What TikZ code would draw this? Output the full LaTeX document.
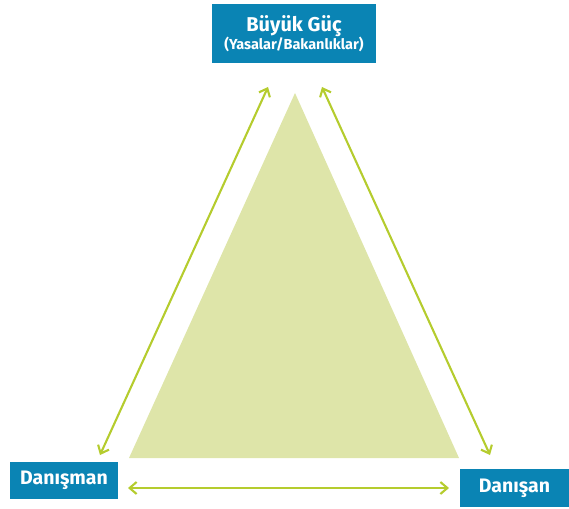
\documentclass[tikz,border=0pt]{standalone}
\usepackage{fontspec}
\setmainfont{Fira Sans}
\usetikzlibrary{arrows.meta}
\definecolor{boxblue}{HTML}{0A84B4}
\definecolor{tri}{HTML}{DEE5A9}
\definecolor{arr}{HTML}{B5CC2E}
\tikzset{
  lbl/.style={fill=boxblue,text=white,font=\bfseries,inner sep=0pt,align=center},
  link/.style={draw=arr,line width=2.1pt,{Straight Barb[length=7pt,width=12pt]}-{Straight Barb[length=7pt,width=12pt]}}
}
\begin{document}
\begin{tikzpicture}[x=1pt,y=-1pt]
\useasboundingbox (0,0) rectangle (569,508);
\fill[tri] (295,93) -- (459,458) -- (129,458) -- cycle;
\node[lbl,minimum width=164pt,minimum height=59pt] (top) at (294,33.5) {\fontsize{20}{22}\selectfont Büyük Güç\\[-1pt]\fontsize{14.5}{16}\selectfont (Yasalar/Bakanlıklar)};
\node[lbl,minimum width=108pt,minimum height=37pt,font=\bfseries\fontsize{19.5}{21}\selectfont] (left) at (64,480.5) {Danışman};
\node[lbl,minimum width=109pt,minimum height=38pt,font=\bfseries\fontsize{19.5}{21}\selectfont] (right) at (514.5,488) {Danışan};
\coordinate (a1) at (268,87);
\coordinate (a2) at (100,455);
\coordinate (b1) at (322,87);
\coordinate (b2) at (490,455);
\coordinate (c1) at (128,488);
\coordinate (c2) at (449,488);
\draw[link] (a1) -- (a2);
\draw[link] (b1) -- (b2);
\draw[link] (c1) -- (c2);
\end{tikzpicture}
\end{document}
